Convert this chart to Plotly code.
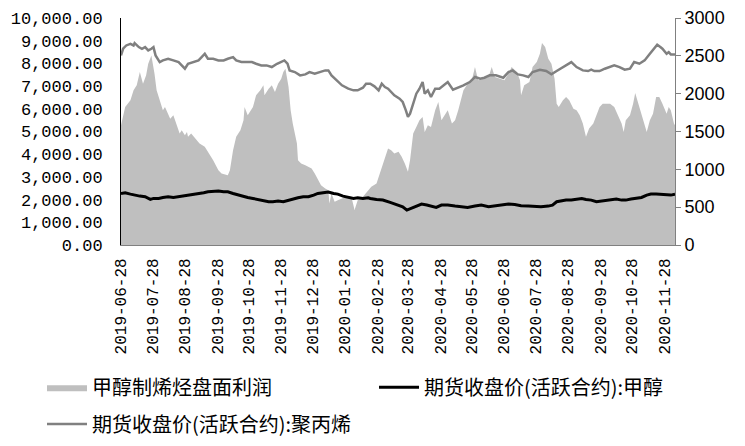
import plotly.graph_objects as go

# 甲醇制烯烃盘面利润 (right axis)
profit_dates = [
    "2019-06-28","2019-07-02","2019-07-07","2019-07-10","2019-07-13","2019-07-16","2019-07-19","2019-07-22",
    "2019-07-24","2019-07-27","2019-07-30","2019-08-01","2019-08-04","2019-08-07","2019-08-09","2019-08-12",
    "2019-08-14","2019-08-17","2019-08-20","2019-08-23","2019-08-25","2019-08-28","2019-08-30","2019-08-31",
    "2019-09-03","2019-09-08","2019-09-11","2019-09-16","2019-09-19","2019-09-24","2019-09-29","2019-10-02",
    "2019-10-08","2019-10-10","2019-10-13","2019-10-16","2019-10-20","2019-10-23","2019-10-24","2019-10-27",
    "2019-11-01","2019-11-04","2019-11-08","2019-11-11","2019-11-12","2019-11-16","2019-11-19","2019-11-22",
    "2019-11-25","2019-11-28","2019-11-30","2019-12-02","2019-12-05","2019-12-07","2019-12-09","2019-12-13",
    "2019-12-14","2019-12-17","2019-12-21","2019-12-24","2019-12-27","2019-12-30","2020-01-02","2020-01-05",
    "2020-01-09","2020-01-12","2020-01-13","2020-01-15","2020-01-18","2020-01-21","2020-01-29","2020-02-03",
    "2020-02-06","2020-02-09","2020-02-14","2020-02-19","2020-02-22","2020-02-27","2020-03-01","2020-03-04",
    "2020-03-07","2020-03-09","2020-03-12","2020-03-15","2020-03-19","2020-03-22","2020-03-25","2020-03-28",
    "2020-03-30","2020-04-02","2020-04-05","2020-04-08","2020-04-11","2020-04-13","2020-04-16","2020-04-19",
    "2020-04-23","2020-04-26","2020-04-29","2020-05-02","2020-05-05","2020-05-09","2020-05-12","2020-05-15",
    "2020-05-20","2020-05-24","2020-05-28","2020-05-31","2020-06-03","2020-06-08","2020-06-13","2020-06-16",
    "2020-06-19","2020-06-24","2020-06-28","2020-07-02","2020-07-05","2020-07-10","2020-07-13","2020-07-14",
    "2020-07-17","2020-07-22","2020-07-25","2020-07-29","2020-08-01","2020-08-03","2020-08-06","2020-08-09",
    "2020-08-12","2020-08-15","2020-08-17","2020-08-19","2020-08-23","2020-08-26","2020-08-29","2020-09-02",
    "2020-09-05","2020-09-08","2020-09-11","2020-09-14","2020-09-17","2020-09-21","2020-09-24","2020-09-27",
    "2020-09-30","2020-10-07","2020-10-11","2020-10-15","2020-10-18","2020-10-20","2020-10-22","2020-10-26",
    "2020-10-29","2020-10-31","2020-11-03","2020-11-06","2020-11-09","2020-11-11","2020-11-14","2020-11-17",
    "2020-11-20","2020-11-23","2020-11-26","2020-11-30","2020-12-02","2020-12-04","2020-12-07","2020-12-08",
]
profit_values = [
    1583,1824,1912,2044,2110,2286,2132,2242,2396,2506,2264,2044,1912,1780,1824,1736,
    1670,1714,1605,1473,1517,1451,1495,1429,1473,1385,1341,1297,1231,1121,989,945,
    923,989,1253,1429,1517,1649,1824,1714,1824,1978,2044,2110,1978,2066,2110,2022,
    2132,2198,2286,2330,2088,1780,1605,1341,1121,1077,1055,1033,1011,945,857,791,
    747,725,550,681,571,593,637,637,462,593,637,725,769,813,945,1077,
    1209,1275,1253,1209,1231,1165,1077,967,1121,1473,1561,1649,1692,1495,1583,1561,
    1780,1890,1649,1714,1780,1605,1649,1780,2044,2132,2176,2352,2176,2198,2220,2352,
    2220,2198,2176,2264,2352,2286,2176,1978,2110,2154,2352,2418,2528,2668,2616,2462,
    2396,2198,1868,1824,1912,1956,1912,1802,1780,1714,1605,1429,1539,1605,1714,1824,
    1868,1868,1824,1692,1605,1495,1649,1714,1868,2009,1868,1714,1583,1495,1649,1736,
    1956,1956,1868,1736,1824,1780,1605,1583,
]

# 期货收盘价(活跃合约):聚丙烯 (left axis)
pp_dates = [
    "2019-06-28","2019-06-30","2019-07-03","2019-07-07","2019-07-10","2019-07-11","2019-07-15","2019-07-18",
    "2019-07-21","2019-07-24","2019-07-27","2019-07-29","2019-07-31","2019-08-04","2019-08-07","2019-08-12",
    "2019-08-17","2019-08-22","2019-08-25","2019-08-28","2019-08-31","2019-09-05","2019-09-10","2019-09-13",
    "2019-09-16","2019-09-19","2019-09-24","2019-09-29","2019-10-04","2019-10-08","2019-10-13","2019-10-16",
    "2019-10-21","2019-10-26","2019-10-31","2019-11-04","2019-11-09","2019-11-14","2019-11-19","2019-11-24",
    "2019-11-27","2019-12-01","2019-12-04","2019-12-06","2019-12-11","2019-12-16","2019-12-21","2019-12-25",
    "2019-12-30","2020-01-04","2020-01-09","2020-01-12","2020-01-15","2020-01-20","2020-01-25","2020-01-31",
    "2020-02-05","2020-02-09","2020-02-14","2020-02-17","2020-02-21","2020-02-25","2020-02-29","2020-03-03",
    "2020-03-06","2020-03-09","2020-03-12","2020-03-15","2020-03-20","2020-03-23","2020-03-26","2020-03-28",
    "2020-03-30","2020-04-02","2020-04-05","2020-04-08","2020-04-11","2020-04-13","2020-04-16","2020-04-19",
    "2020-04-23","2020-04-27","2020-05-01","2020-05-05","2020-05-10","2020-05-15","2020-05-20","2020-05-26",
    "2020-05-31","2020-06-05","2020-06-09","2020-06-14","2020-06-20","2020-06-27","2020-07-02","2020-07-06",
    "2020-07-11","2020-07-16","2020-07-21","2020-07-25","2020-08-01","2020-08-07","2020-08-12","2020-08-17",
    "2020-08-21","2020-08-26","2020-08-31","2020-09-05","2020-09-11","2020-09-16","2020-09-19","2020-09-22",
    "2020-09-27","2020-10-02","2020-10-07","2020-10-11","2020-10-16","2020-10-21","2020-10-26","2020-10-30",
    "2020-11-04","2020-11-09","2020-11-14","2020-11-18","2020-11-21","2020-11-24","2020-11-26","2020-11-30",
    "2020-12-02","2020-12-04","2020-12-08",
]
pp_values = [
    8352,8645,8791,8864,8791,8894,8718,8645,8718,8571,8645,8718,8352,8059,8132,8205,
    8132,8059,7912,7766,7985,8059,8132,8278,8425,8205,8205,8132,8132,8205,8278,8132,
    8059,8059,8059,7985,7912,7912,7839,7985,8059,8132,7985,7692,7619,7473,7516,7619,
    7546,7619,7692,7692,7473,7253,7033,6886,6813,6813,6930,7106,7106,6989,6813,7106,
    6960,6886,6740,6593,6447,6300,5934,5641,5788,6227,6667,6886,7179,6667,6813,6520,
    6886,6886,7033,7179,6842,6930,7033,7179,7399,7326,7370,7473,7473,7370,7619,7692,
    7516,7473,7399,7619,7722,7663,7516,7663,7766,7912,8059,7839,7692,7663,7722,7663,
    7663,7766,7839,7912,7839,7722,7766,8059,7985,8132,8425,8645,8820,8718,8645,8425,
    8498,8396,8396,
]

# 期货收盘价(活跃合约):甲醇 (left axis)
ma_dates = [
    "2019-06-28","2019-07-02","2019-07-07","2019-07-11","2019-07-16","2019-07-21","2019-07-26","2019-07-29",
    "2019-08-03","2019-08-07","2019-08-12","2019-08-17","2019-08-22","2019-08-26","2019-08-31","2019-09-05",
    "2019-09-10","2019-09-15","2019-09-19","2019-09-24","2019-09-29","2019-10-04","2019-10-08","2019-10-13",
    "2019-10-18","2019-10-23","2019-10-27","2019-11-01","2019-11-06","2019-11-11","2019-11-16","2019-11-20",
    "2019-11-25","2019-11-30","2019-12-05","2019-12-09","2019-12-14","2019-12-19","2019-12-24","2019-12-29",
    "2020-01-02","2020-01-07","2020-01-12","2020-01-17","2020-01-21","2020-01-26","2020-01-31","2020-02-05",
    "2020-02-09","2020-02-14","2020-02-19","2020-02-21","2020-02-27","2020-03-04","2020-03-11","2020-03-17",
    "2020-03-23","2020-03-27","2020-03-31","2020-04-05","2020-04-10","2020-04-15","2020-04-19","2020-04-24",
    "2020-04-29","2020-05-05","2020-05-12","2020-05-18","2020-05-24","2020-05-31","2020-06-06","2020-06-13",
    "2020-06-19","2020-06-25","2020-07-02","2020-07-08","2020-07-14","2020-07-21","2020-07-27","2020-08-02",
    "2020-08-09","2020-08-13","2020-08-17","2020-08-21","2020-08-26","2020-08-31","2020-09-05","2020-09-10",
    "2020-09-14","2020-09-19","2020-09-24","2020-09-29","2020-10-03","2020-10-08","2020-10-13","2020-10-18",
    "2020-10-22","2020-10-27","2020-11-01","2020-11-06","2020-11-11","2020-11-15","2020-11-20","2020-11-25",
    "2020-11-30","2020-12-04","2020-12-08",
]
ma_values = [
    2271,2300,2242,2198,2154,2125,2007,2051,2051,2095,2125,2095,2125,2154,2198,2242,
    2271,2300,2344,2374,2374,2344,2344,2271,2198,2125,2095,2051,2007,1934,1905,1905,
    1934,1905,1978,2022,2081,2125,2125,2198,2271,2300,2330,2271,2242,2154,2095,2051,
    2081,2051,2081,2051,2007,1978,1875,1788,1685,1538,1612,1729,1802,1758,1714,1656,
    1758,1758,1714,1685,1656,1714,1758,1685,1729,1758,1802,1788,1729,1714,1685,1685,
    1714,1758,1905,1934,1978,1978,2022,2051,2007,1978,1905,1934,1978,2007,2022,1978,
    1978,2022,2051,2095,2198,2242,2242,2227,2198,2198,2242,
]

x_ticks = ["2019-06-28","2019-07-28","2019-08-28","2019-09-28","2019-10-28","2019-11-28",
           "2019-12-28","2020-01-28","2020-02-28","2020-03-28","2020-04-28","2020-05-28",
           "2020-06-28","2020-07-28","2020-08-28","2020-09-28","2020-10-28","2020-11-28"]
x_range = ["2019-06-28", "2020-12-08"]
left_range = [0, 10000]
right_range = [0, 3000]

names = ["甲醇制烯烃盘面利润", "期货收盘价(活跃合约):甲醇", "期货收盘价(活跃合约):聚丙烯"]

fig = go.Figure()
fig.add_trace(go.Scatter(
    x=profit_dates, y=profit_values, name=names[0], mode="lines",
    line=dict(width=0, color="#BFBFBF"), fill="tozeroy", fillcolor="#BFBFBF",
    yaxis="y", legend="legend",
))
fig.add_trace(go.Scatter(
    x=ma_dates, y=ma_values, name=names[1], mode="lines",
    line=dict(width=3, color="#000000"), yaxis="y2", legend="legend2",
))
fig.add_trace(go.Scatter(
    x=pp_dates, y=pp_values, name=names[2], mode="lines",
    line=dict(width=2.5, color="#808080"), yaxis="y2", legend="legend3",
))

mono = "Liberation Mono, DejaVu Sans Mono, monospace"
cjk = "Noto Sans CJK SC, sans-serif"

def leg(x, y):
    return dict(
        orientation="h", xref="paper", yref="paper",
        x=x, y=y, xanchor="left", yanchor="middle",
        font=dict(family=cjk, size=20, color="#000"),
        itemwidth=40, bgcolor="rgba(0,0,0,0)",
    )

# page body adds an 8px offset, so the margins are trimmed by 8px on top/left
fig.update_layout(
    width=745, height=446,
    margin=dict(l=113, r=78, t=9.5, b=209, autoexpand=False),
    paper_bgcolor="white", plot_bgcolor="white",
    showlegend=True,
    xaxis=dict(
        type="date", range=x_range, tickvals=x_ticks, tickformat="%Y-%m-%d",
        tickangle=-90, tickfont=dict(family=mono, size=16, color="#000"),
        showgrid=False, zeroline=False, showline=True, linecolor="#808080", linewidth=1,
        ticks="", ticklabelstandoff=6, automargin=False,
    ),
    yaxis=dict(
        side="right", range=right_range, dtick=500, tickformat="d",
        tickfont=dict(family="Liberation Sans, Arial, sans-serif", size=18, color="#000"),
        showgrid=False, zeroline=False, showline=True, linecolor="#808080", linewidth=1,
        ticks="outside", ticklen=5, tickcolor="#808080", automargin=False,
    ),
    yaxis2=dict(
        overlaying="y", side="left", range=left_range, dtick=1000, tickformat=",.2f",
        tickfont=dict(family=mono, size=17, color="#000"),
        showgrid=False, zeroline=False, showline=True, linecolor="#000000", linewidth=1,
        ticks="", ticklabelstandoff=14, automargin=False,
    ),
    legend=leg(-0.1426, -0.627),
    legend2=leg(0.4567, -0.627),
    legend3=leg(-0.1426, -0.789),
)

fig.write_html("out.html")
